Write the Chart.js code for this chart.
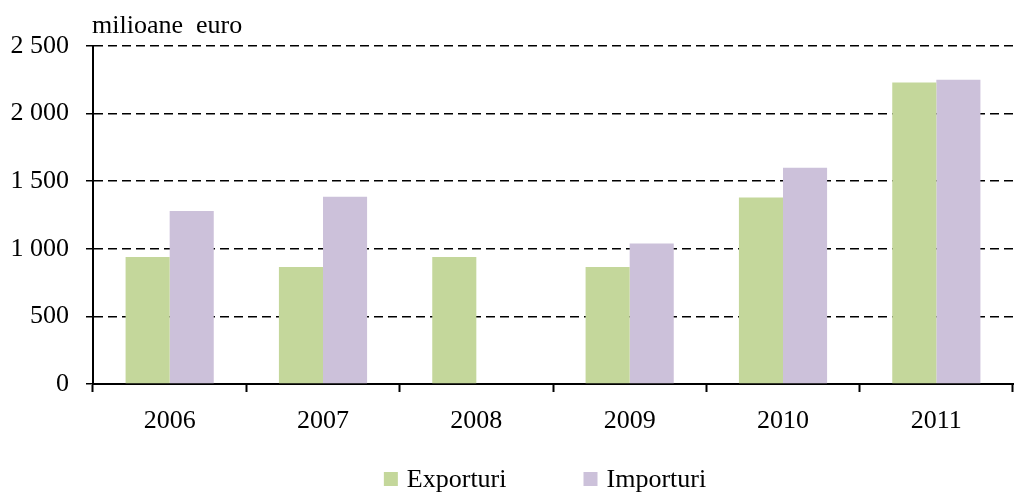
<!DOCTYPE html>
<html>
<head>
<meta charset="utf-8">
<script src="https://cdn.jsdelivr.net/npm/chart.js@4"></script>
<style>
    html, body { margin: 0; padding: 0; background: #fff; }
    #wrap { width: 1014px; height: 494px; }
</style>
</head>
<body>
<div id="wrap"><canvas id="chart" width="1014" height="494"></canvas></div>
<script>
// --------- Données ----------
const years = ["2006", "2007", "2008", "2009", "2010", "2011"];
const exporturi = [940, 865, 940, 865, 1380, 2230];
const importuri = [1280, 1385, null, 1040, 1600, 2250];
const yTicks = [0, 500, 1000, 1500, 2000, 2500];
const unitLabel = "milioane  euro";

const FONT = "'Liberation Serif', 'Times New Roman', serif";

function fmt(v) {
    return v >= 1000 ? Math.floor(v / 1000) + " " + String(v % 1000).padStart(3, "0") : String(v);
}

// --------- Légende + unité dessinées à la main ----------
const extras = {
    id: "extras",
    afterDraw(chart) {
        const ctx = chart.ctx;
        const area = chart.chartArea;
        ctx.save();
        ctx.fillStyle = "#000";
        ctx.font = "26px " + FONT;
        ctx.textBaseline = "alphabetic";
        ctx.textAlign = "left";
        ctx.fillText(unitLabel, area.left - 1, 33);

        const items = chart.data.datasets.map(ds => ({
            label: ds.label,
            color: ds.backgroundColor,
            w: 14 + 9 + ctx.measureText(ds.label).width
        }));
        const gap = 77;
        const total = items.reduce((s, it) => s + it.w, 0) + gap * (items.length - 1);
        let x = (area.left + area.right) / 2 - 8 - total / 2;
        items.forEach(it => {
            ctx.fillStyle = it.color;
            ctx.fillRect(x, 472, 14, 14);
            ctx.fillStyle = "#000";
            ctx.fillText(it.label, x + 23, 487);
            x += it.w + gap;
        });
        ctx.restore();
    }
};

new Chart(document.getElementById("chart").getContext("2d"), {
    type: "bar",
    data: {
        labels: years,
        datasets: [
            { label: "Exporturi", data: exporturi, backgroundColor: "#c4d79b" },
            { label: "Importuri", data: importuri, backgroundColor: "#ccc1da" }
        ]
    },
    options: {
        responsive: false,
        animation: false,
        layout: { padding: { top: 46, right: 1, left: 0, bottom: 0 } },
        plugins: { legend: { display: false }, tooltip: { enabled: false } },
        datasets: { bar: { categoryPercentage: 0.575, barPercentage: 1.0 } },
        scales: {
            x: {
                grid: { drawOnChartArea: false, drawTicks: true, tickLength: 8, color: "#000", offset: true, tickWidth: 2 },
                border: { color: "#000", width: 2 },
                ticks: { color: "#000", font: { family: FONT, size: 26 }, padding: 14, maxRotation: 0 },
                afterFit(scale) { scale.height = 110; }
            },
            y: {
                min: 0,
                max: 2500,
                afterBuildTicks(scale) { scale.ticks = yTicks.map(v => ({ value: v })); },
                grid: { color: "#000", lineWidth: 1.5, tickLength: 7, tickBorderDash: [], tickWidth: 1.5 },
                border: { color: "#000", width: 2, dash: [9, 5] },
                ticks: { color: "#000", font: { family: FONT, size: 26 }, padding: 17, callback: v => fmt(v) },
                afterFit(scale) { scale.width = 93; }
            }
        }
    },
    plugins: [extras]
});
</script>
</body>
</html>
